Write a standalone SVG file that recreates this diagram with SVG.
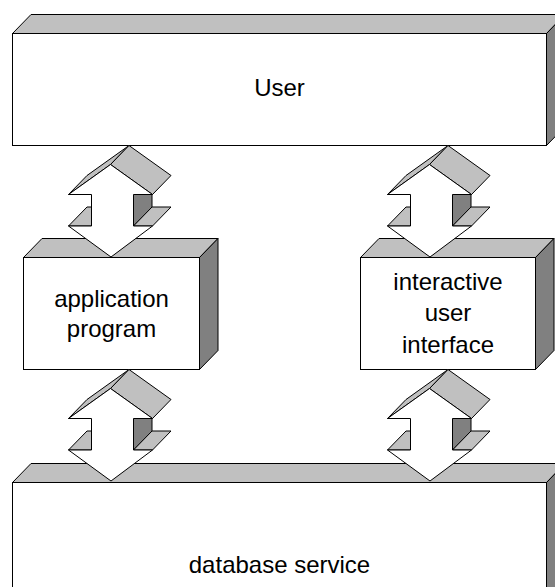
<svg xmlns="http://www.w3.org/2000/svg" xmlns:xlink="http://www.w3.org/1999/xlink" width="555" height="587" viewBox="0 0 555 587">
<style>
.front{fill:#ffffff;stroke:#000000;stroke-width:1}
.top{fill:#c0c0c0;stroke:#000000;stroke-width:1}
.side{fill:#808080;stroke:#000000;stroke-width:1}
.lbl{font-family:"Liberation Sans",Arial,sans-serif;font-size:24px;fill:#000000;text-anchor:middle}
</style>
<defs>
<g id="dblarrow">
<polygon class="side" points="133.5,194.5 152,175.5 152,207 133.5,226"/>
<polygon class="top" points="133.5,226 152.5,226 171,207 152,207"/>
<polygon class="top" points="68.5,226 91.5,226 110,207 87,207"/>
<polygon class="top" points="68.5,194.5 110.5,164.5 129,145.5 87,175.5"/>
<polygon class="top" points="110.5,164.5 152.5,194.5 171,175.5 129,145.5"/>
<polygon class="front" points="110.5,164.5 152.5,194.5 133.5,194.5 133.5,226 152.5,226 111,257 68.5,226 91.5,226 91.5,194.5 68.5,194.5"/>
</g>
</defs>
<rect width="555" height="587" fill="#ffffff"/>
<g id="user">
<polygon class="top" points="12.5,33.5 31,14.5 565,14.5 546.5,33.5"/>
<polygon class="side" points="546.5,33.5 565,14.5 565,126.5 546.5,145.5"/>
<rect class="front" x="12.5" y="33.5" width="534" height="112"/>
<text class="lbl" x="279.5" y="96">User</text>
</g>
<g id="app">
<polygon class="top" points="23.5,257.5 42,238.5 218,238.5 199.5,257.5"/>
<polygon class="side" points="199.5,257.5 218,238.5 218,350.5 199.5,369.5"/>
<rect class="front" x="23.5" y="257.5" width="176" height="112"/>
<text class="lbl" x="111.5" y="307">application</text>
<text class="lbl" x="111.5" y="337">program</text>
</g>
<g id="ui">
<polygon class="top" points="360.5,257.5 379,238.5 554,238.5 535.5,257.5"/>
<polygon class="side" points="535.5,257.5 554,238.5 554,350.5 535.5,369.5"/>
<rect class="front" x="360.5" y="257.5" width="175" height="112"/>
<text class="lbl" x="448" y="290">interactive</text>
<text class="lbl" x="448" y="321">user</text>
<text class="lbl" x="448" y="353">interface</text>
</g>
<g id="db">
<polygon class="top" points="12.5,482.5 31,463.5 565,463.5 546.5,482.5"/>
<polygon class="side" points="546.5,482.5 565,463.5 565,600 546.5,600"/>
<rect class="front" x="12.5" y="482.5" width="534" height="130"/>
<text class="lbl" x="279.5" y="573">database service</text>
</g>
<g id="connectors">
<use xlink:href="#dblarrow"/>
<use xlink:href="#dblarrow" transform="translate(319,0)"/>
<use xlink:href="#dblarrow" transform="translate(0,224)"/>
<use xlink:href="#dblarrow" transform="translate(319,224)"/>
</g>
</svg>
